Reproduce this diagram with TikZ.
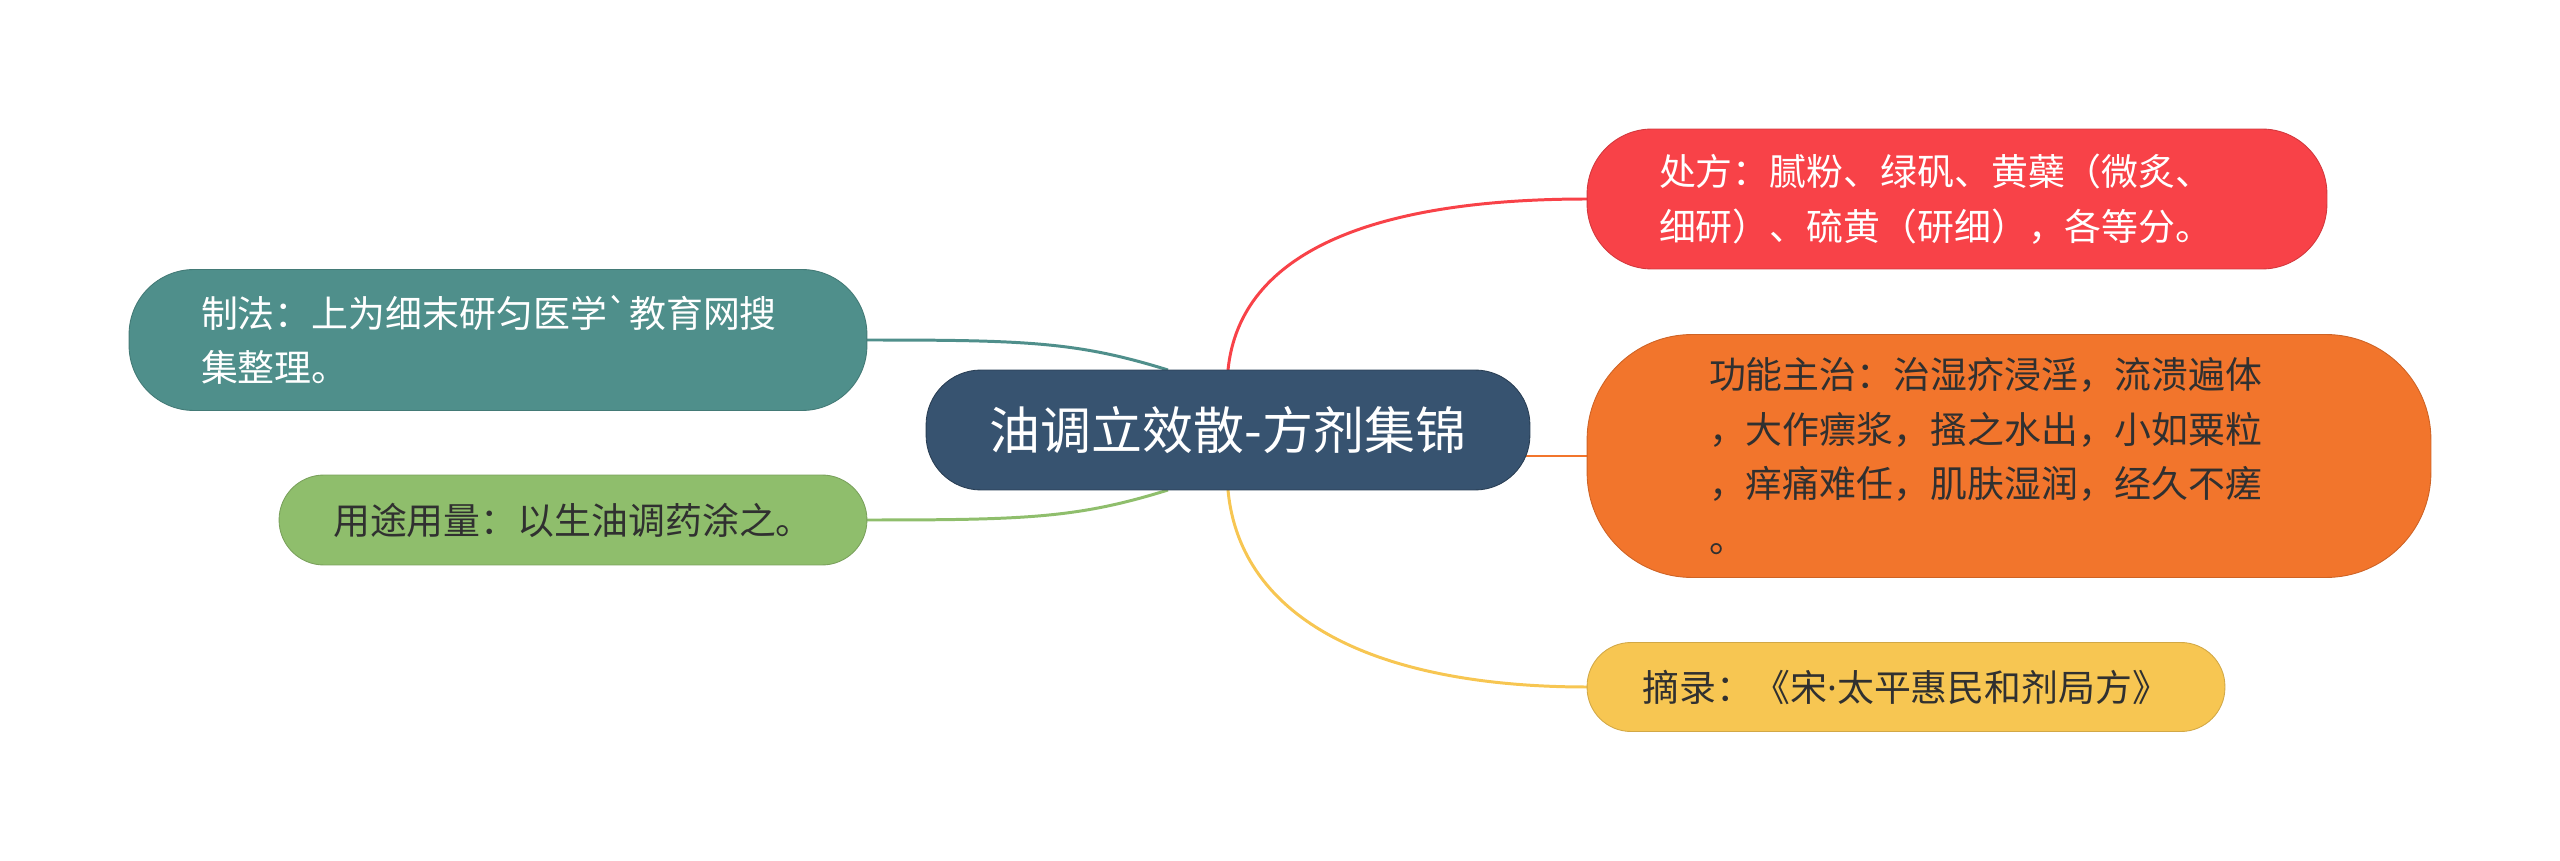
\documentclass[tikz,border=0pt]{standalone}
\usepackage{fontspec}
\newfontfamily\cjk{Noto Sans CJK SC}
\newfontfamily\latin{Noto Sans}
\usetikzlibrary{backgrounds}
\definecolor{mapnavy}{RGB}{55,83,112}
\definecolor{mapred}{RGB}{248,66,72}
\definecolor{maporange}{RGB}{242,117,44}
\definecolor{mapyellow}{RGB}{247,198,82}
\definecolor{mapteal}{RGB}{79,143,139}
\definecolor{mapgreen}{RGB}{143,190,108}
\definecolor{mapink}{RGB}{48,48,48}

\begin{document}
\begin{tikzpicture}[x=0.02cm,y=-0.02cm,
  topic/.style={rectangle,rounded corners=1.1cm,draw=mapnavy!75!black,line width=0.5pt,fill=mapnavy,text=white,minimum width=12.08cm,minimum height=2.4cm,inner sep=0pt,outer sep=0pt,font=\cjk\fontsize{29pt}{35pt}\selectfont},
  leaf/.style={rectangle,line width=0.5pt,inner ysep=0pt,outer sep=0pt,font=\cjk\fontsize{21pt}{31pt}\selectfont},
  branch/.style={line width=1.7pt}]
  \useasboundingbox (0,0) rectangle (2560,861);
  \node[topic] (ctr) at (1228,430) {油调立效散-方剂集锦};
  \node[leaf,rounded corners=1.3cm,fill=mapred,draw=mapred!85!black,text=white,align=left,inner xsep=1.44cm,text width=11.92cm,minimum height=2.8cm] (recipe) at (1957,199) {处方：腻粉、绿矾、黄蘗（微炙、\\细研）、硫黄（研细），各等分。};
  \node[leaf,rounded corners=2.1cm,fill=maporange,draw=maporange!85!black,text=mapink,align=left,inner xsep=2.44cm,text width=12cm,minimum height=4.86cm] (effect) at (2009,456) {功能主治：治湿疥浸淫，流溃遍体\\，大作瘭浆，搔之水出，小如粟粒\\，痒痛难任，肌肤湿润，经久不瘥\\。};
  \node[leaf,rounded corners=0.88cm,fill=mapyellow,draw=mapyellow!85!black,text=mapink,align=center,minimum width=12.76cm,minimum height=1.78cm] (source) at (1906,687) {摘录：《宋{\latin ·}太平惠民和剂局方》};
  \node[leaf,rounded corners=1.3cm,fill=mapteal,draw=mapteal!85!black,text=white,align=left,inner xsep=1.44cm,text width=11.88cm,minimum height=2.82cm] (method) at (498,340) {制法：上为细末研匀医学`教育网搜\\集整理。};
  \node[leaf,rounded corners=0.9cm,fill=mapgreen,draw=mapgreen!85!black,text=mapink,align=center,minimum width=11.76cm,minimum height=1.8cm] (usage) at (573,520) {用途用量：以生油调药涂之。};
  \begin{scope}[on background layer]
    \draw[branch,mapred] (ctr.north) .. controls +(12,-120) and +(-210,0) .. (recipe.west);
    \draw[branch,maporange] (ctr.center |- effect.west) -- (effect.west);
    \draw[branch,mapyellow] (ctr.south) .. controls +(12,130) and +(-210,0) .. (source.west);
    \draw[branch,mapteal] (method.east) .. controls +(160,0) and +(-90,-28) .. (ctr.135);
    \draw[branch,mapgreen] (usage.east) .. controls +(160,0) and +(-90,28) .. (ctr.225);
  \end{scope}
\end{tikzpicture}
\end{document}
